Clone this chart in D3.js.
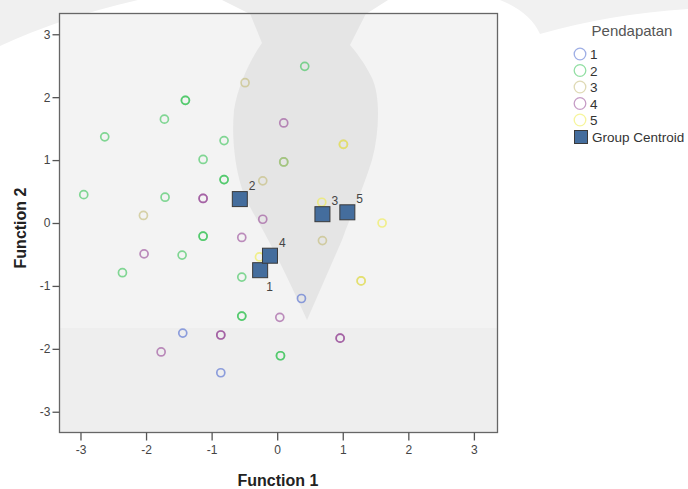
<!DOCTYPE html>
<html>
<head>
<meta charset="utf-8">
<script src="https://cdn.jsdelivr.net/npm/d3@7"></script>
<style>
  body { margin: 0; background: #fff; }
  svg text { font-family: "Liberation Sans", Arial, sans-serif; }
</style>
</head>
<body>
<div id="chart"></div>
<script>
// cases: group membership and discriminant scores
const caseGroup = ["1","1","1",
  "2","2","2","2","2","2","2","2","2","2","2","2","2","2","2","2","2","2","2","2","2",
  "3","3","3","3","3","3","3",
  "4","4","4","4","4","4","4","4","4","4","4","4",
  "5","5","5","5","5"];
const caseF1 = [-1.44,-0.86,0.37,
  -1.40,-1.40,-1.72,-2.63,-1.13,-2.95,-1.71,0.42,-0.81,0.10,-0.81,-0.81,-1.13,-1.13,-1.45,-2.36,-0.54,-0.54,-0.54,0.05,0.05,
  -2.04,-0.49,1.01,0.10,-0.22,0.69,1.28,
  -1.13,-1.13,0.10,-0.22,-2.03,-1.77,-0.54,0.04,-0.86,-0.86,0.96,0.96,
  1.01,0.68,1.60,-0.27,1.28];
const caseF2 = [-1.75,-2.38,-1.20,
  1.95,1.95,1.65,1.37,1.01,0.45,0.41,2.49,1.31,0.97,0.69,0.69,-0.21,-0.21,-0.51,-0.79,-0.86,-1.48,-1.48,-2.11,-2.11,
  0.12,2.23,1.25,0.97,0.67,-0.28,-0.92,
  0.39,0.39,1.59,0.06,-0.49,-2.05,-0.23,-1.50,-1.78,-1.78,-1.83,-1.83,
  1.25,0.33,0.00,-0.54,-0.92];

const groups = ["1","2","3","4","5"];
const centroidF1 = [-0.26,-0.57,0.69,-0.11,1.07];
const centroidF2 = [-0.75,0.38,0.14,-0.52,0.17];
const ticks = [-3,-2,-1,0,1,2,3];

const colors = {"1":"#4f6bd0","2":"#38c457","3":"#c4bc78","4":"#974a97","5":"#efec4a"};

const W = 688, H = 489;
const svg = d3.select("#chart").append("svg").attr("width", W).attr("height", H);

const x = d3.scaleLinear().domain([-3.32, 3.36]).range([59.5, 497.5]);
const y = d3.scaleLinear().domain([-3.33, 3.33]).range([432.5, 13.5]);

// faint watermark behind the chart
svg.append("path").attr("fill", "#f0f0f0")
  .attr("d", "M0,0 L138,0 Q60,18 0,46 Z");
svg.append("path").attr("fill", "#f1f1f1")
  .attr("d", "M500,0 L688,0 L688,9 Q610,14 540,34 Q530,12 500,0 Z");
svg.append("path").attr("fill", "#ededed")
  .attr("d", "M222,0 L388,0 L366,14 L250,14 Z");

// plot area
svg.append("rect").attr("x", 59.5).attr("y", 13.5).attr("width", 438).attr("height", 419)
  .attr("fill", "#f3f3f3");
svg.append("rect").attr("x", 59.5).attr("y", 328).attr("width", 438).attr("height", 104.5)
  .attr("fill", "#eeeeee");
svg.append("path").attr("fill", "#e5e5e5")
  .attr("d", "M250,13.5 L262,43 C250,60 238,85 234,110 C231,140 236,180 248,203 C256,220 265,228 307,320 " +
             "L342,240 C352,212 362,192 372,160 C380,130 380,95 372,78 C364,62 356,52 350,45 L366,13.5 Z");

// cases
svg.append("g").selectAll("circle")
  .data(caseGroup.map((g, i) => ({g: g, f1: caseF1[i], f2: caseF2[i]})))
  .join("circle")
  .attr("cx", d => x(d.f1))
  .attr("cy", d => y(d.f2))
  .attr("r", 4)
  .attr("fill", "none")
  .attr("stroke", d => colors[d.g])
  .attr("stroke-opacity", 0.62)
  .attr("stroke-width", 1.7);

// group centroids
const cent = groups.map((g, i) => ({g: g, f1: centroidF1[i], f2: centroidF2[i]}));
svg.append("g").selectAll("rect")
  .data(cent)
  .join("rect")
  .attr("x", d => x(d.f1) - 7.5)
  .attr("y", d => y(d.f2) - 7.5)
  .attr("width", 15).attr("height", 15)
  .attr("fill", "#446d9d")
  .attr("stroke", "#3a3a3a")
  .attr("stroke-width", 1);

svg.append("g").selectAll("text")
  .data(cent)
  .join("text")
  .attr("x", d => x(d.f1) + (d.g === "1" ? 6 : 9))
  .attr("y", d => y(d.f2) + (d.g === "1" ? 21 : -9))
  .attr("font-size", "12px")
  .attr("fill", "#444")
  .text(d => d.g);

// frame
svg.append("rect").attr("x", 59.5).attr("y", 13.5).attr("width", 438).attr("height", 419)
  .attr("fill", "none").attr("stroke", "#666").attr("stroke-width", 1.3);

// axes
const xAxis = svg.append("g").attr("transform", "translate(0,432.5)")
  .call(d3.axisBottom(x).tickValues(ticks).tickSize(8).tickFormat(d => String(d)));
const yAxis = svg.append("g").attr("transform", "translate(59.5,0)")
  .call(d3.axisLeft(y).tickValues(ticks).tickSize(7).tickFormat(d => String(d)));
[xAxis, yAxis].forEach(a => {
  a.select(".domain").remove();
  a.selectAll(".tick line").attr("stroke", "#555").attr("stroke-width", 1.3);
  a.selectAll(".tick text").attr("fill", "#444").attr("font-size", "12px")
    .attr("font-family", "Liberation Sans, Arial, sans-serif");
});
xAxis.selectAll(".tick text").attr("dy", "0.85em");
yAxis.selectAll(".tick text").attr("x", -9);

svg.append("text").attr("x", 278).attr("y", 486).attr("text-anchor", "middle")
  .attr("font-size", "16px").attr("font-weight", "bold").attr("fill", "#222")
  .text("Function 1");
svg.append("text").attr("transform", "translate(26,228) rotate(-90)").attr("text-anchor", "middle")
  .attr("font-size", "16px").attr("font-weight", "bold").attr("fill", "#222")
  .text("Function 2");

// legend
const legend = svg.append("g");
legend.append("text").attr("x", 632).attr("y", 36).attr("text-anchor", "middle")
  .attr("font-size", "15px").attr("fill", "#555").text("Pendapatan");
const ly = d3.scalePoint().domain(groups).range([54, 120]);
legend.selectAll("circle").data(groups).join("circle")
  .attr("cx", 580).attr("cy", d => ly(d)).attr("r", 5.8)
  .attr("fill", "none").attr("stroke", d => colors[d])
  .attr("stroke-opacity", 0.55).attr("stroke-width", 1.3);
legend.selectAll("text.item").data(groups).join("text").attr("class", "item")
  .attr("x", 590).attr("y", d => ly(d) + 5)
  .attr("font-size", "13.5px").attr("fill", "#333").text(d => d);
legend.append("rect").attr("x", 574.5).attr("y", 130.5).attr("width", 13).attr("height", 13)
  .attr("fill", "#446d9d").attr("stroke", "#3a3a3a").attr("stroke-width", 1);
legend.append("text").attr("x", 592).attr("y", 142)
  .attr("font-size", "13.5px").attr("fill", "#333").text("Group Centroid");
</script>
</body>
</html>
